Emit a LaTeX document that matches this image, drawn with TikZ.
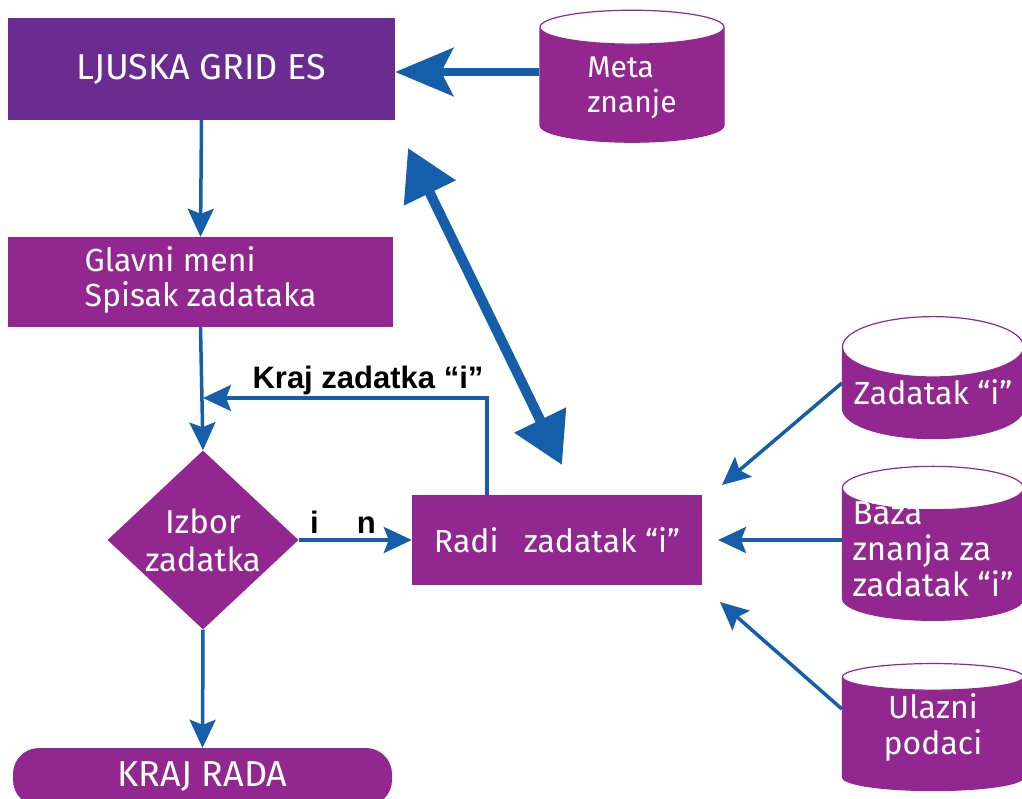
\documentclass[tikz,border=0pt]{standalone}
\usepackage{fontspec}
\setmainfont{Fira Sans}
\newfontfamily\labelfont{Liberation Sans}
\usetikzlibrary{shapes.geometric,arrows.meta}
\definecolor{shellpurple}{RGB}{106,44,145}
\definecolor{stepmag}{RGB}{146,39,143}
\definecolor{flowblue}{RGB}{21,95,170}
% text of a cylinder, shifted down by #2 from its centre
\newcommand{\lowtext}[3][c]{\raisebox{\dimexpr-8pt-#2\relax}[0pt][0pt]{\begin{tabular}{@{}#1@{}}#3\end{tabular}}}

\begin{document}
\begin{tikzpicture}[x=1pt,y=-1pt,
  every node/.style={align=center,text=white,inner sep=0pt,font=\fontsize{32}{36}\selectfont},
  box/.style={rectangle,fill=stepmag},
  db/.style={cylinder,shape border rotate=90,aspect=0.38,draw=stepmag,line width=1.2pt,
    cylinder uses custom fill,cylinder body fill=stepmag,cylinder end fill=white,minimum width=181pt},
  flow/.style={draw=flowblue,line width=3.5pt,-{Stealth[length=28pt,width=26pt,inset=5pt]}},
  lbl/.style={text=black,font=\labelfont\bfseries\fontsize{31}{35}\selectfont}]
\clip (0,0) rectangle (1022,798);
\node[box,fill=shellpurple,minimum width=387pt,minimum height=102pt,font=\fontsize{36}{40}\selectfont] (shell) at (201.5,69) {LJUSKA GRID ES};
\node[box,minimum width=385pt,minimum height=90pt] (menu) at (200.5,282) {\begin{tabular}{@{}l@{}}Glavni meni\\[-1pt]Spisak zadataka\end{tabular}};
\node[diamond,fill=stepmag,minimum width=191pt,minimum height=176pt,font=\fontsize{33}{38}\selectfont] (choose) at (203,540) {Izbor\\zadatka};
\node[box,minimum width=290pt,minimum height=90pt] (work) at (557,540) {Radi\ \ \ zadatak “i”};
\node[rectangle,fill=stepmag,rounded corners=26pt,minimum width=379pt,minimum height=58pt,font=\fontsize{36}{40}\selectfont] (stop) at (202.5,777) {KRAJ RADA};
% baze znanja
\node[db,minimum height=132pt,minimum width=184pt,font=\fontsize{30}{35}\selectfont] (meta) at (632,85) {\lowtext[l]{1pt}{Meta\\znanje}};
\node[db,minimum height=122pt] (task) at (933,393) {\lowtext{3pt}{Zadatak “i”}};
\node[db,aspect=0.27,minimum height=154pt,font=\fontsize{33}{34}\selectfont] (kb) at (933,554.5) {\lowtext[l]{-3pt}{Baza\\znanja za\\zadatak “i”}};
\node[db,aspect=0.27,minimum height=127pt] (input) at (933,734) {\lowtext{-6pt}{Ulazni\\podaci}};
\coordinate (join) at (203,398);
\coordinate (up) at (408,148);
\coordinate (down) at (562,465);
\coordinate (inA) at (722,485);
\coordinate (inB) at (718,540);
\coordinate (inC) at (720,602);
\draw[flow] (shell.south) -- (menu.north);
\draw[flow] (menu.south) -- (choose.north);
\draw[flow] ([xshift=-70pt]work.north) |- (join);
\draw[flow] (choose.east) -- (work.west);
\draw[flow] (choose.south) -- (stop.north);
\draw[flowblue,line width=8pt,-{Stealth[length=58pt,width=48pt,inset=12pt]}] ([yshift=-3pt]meta.west |- shell.east) -- ([yshift=-3pt]shell.east);
\draw[flowblue,line width=10pt,{Triangle[length=50pt,width=55pt]}-{Triangle[length=50pt,width=55pt]}] (up) -- (down);
\draw[flow] ([yshift=10pt]task.west) -- (inA);
\draw[flow] (kb.west |- inB) -- (inB);
\draw[flow] ([yshift=25pt]input.west) -- (inC);
\node[lbl] (endtask) at (368,380) {Kraj zadatka “i”};
\node[lbl] (pick) at (343,522) {i\hspace{38pt}n};
\end{tikzpicture}
\end{document}
